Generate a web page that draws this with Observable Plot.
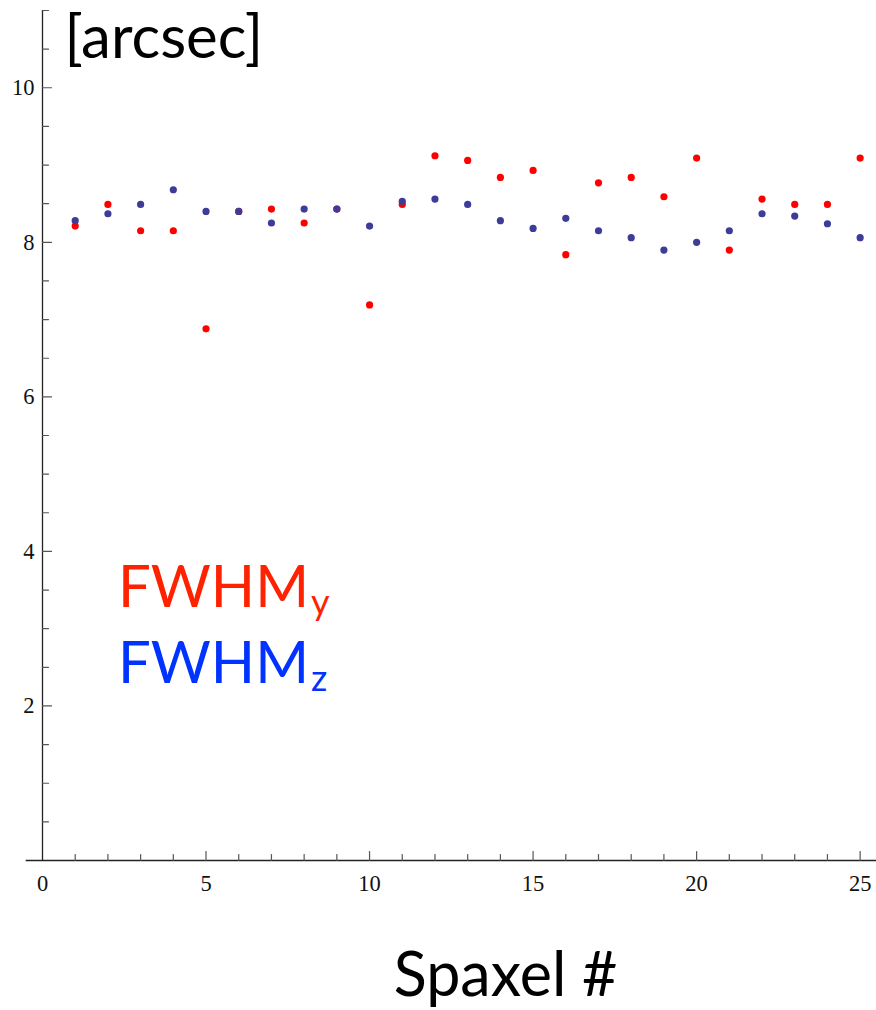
<!DOCTYPE html>
<html>
<head>
<meta charset="utf-8">
<script src="https://cdn.jsdelivr.net/npm/d3@7"></script>
<script src="https://cdn.jsdelivr.net/npm/@observablehq/plot@0.6"></script>
<style>
  body { margin: 0; background: #fff; }
  #wrap { position: relative; width: 876px; height: 1010px; }
  .legend { position: absolute; left: 118px; font-family: Lato, "Open Sans", sans-serif; font-size: 58px; line-height: 1; white-space: nowrap; }
  .legend sub { font-size: 36px; vertical-align: baseline; position: relative; top: 8px; margin-left: 2px; }
</style>
</head>
<body>
<div id="wrap"></div>
<script>
// Data
const spaxel = [1, 2, 3, 4, 5, 6, 7, 8, 9, 10, 11, 12, 13, 14, 15, 16, 17, 18, 19, 20, 21, 22, 23, 24, 25];
const fwhmY  = [8.21, 8.49, 8.15, 8.15, 6.88, 8.40, 8.43, 8.25, 8.43, 7.19, 8.49, 9.12, 9.06, 8.84, 8.93, 7.84, 8.77, 8.84, 8.59, 9.09, 7.90, 8.56, 8.49, 8.49, 9.09];
const fwhmZ  = [8.28, 8.37, 8.49, 8.68, 8.40, 8.40, 8.25, 8.43, 8.43, 8.21, 8.53, 8.56, 8.49, 8.28, 8.18, 8.31, 8.15, 8.06, 7.90, 8.00, 8.15, 8.37, 8.34, 8.24, 8.06];

const xTickLabels = [0, 5, 10, 15, 20, 25];
const xMajorTicks = [5, 10, 15, 20, 25];
const xMinorTicks = [1, 2, 3, 4, 6, 7, 8, 9, 11, 12, 13, 14, 16, 17, 18, 19, 21, 22, 23, 24];
const yTickLabels = [2, 4, 6, 8, 10];
const yMinorTicks = [0.5, 1, 1.5, 2.5, 3, 3.5, 4.5, 5, 5.5, 6.5, 7, 7.5, 8.5, 9, 9.5, 10.5, 11];

const yLabel = "[arcsec]";
const xLabel = "Spaxel #";

const rowsY = spaxel.map((s, i) => ({s, v: fwhmY[i]}));
const rowsZ = spaxel.map((s, i) => ({s, v: fwhmZ[i]}));

const tickShape = {draw(context, l) { context.moveTo(0, 0); context.lineTo(0, -l); }};
const numFont = "'Liberation Serif', 'Times New Roman', serif";
const tickColor = "#555";

const chart = Plot.plot({
  width: 876,
  height: 1010,
  marginTop: 10,
  marginBottom: 150,
  marginLeft: 42,
  marginRight: 0,
  x: {domain: [0, 25.5], axis: null},
  y: {domain: [0, 11], axis: null},
  style: {background: "white"},
  marks: [
    // axis lines
    Plot.ruleY([0], {x1: -0.5, x2: 25.5, stroke: "#222", strokeWidth: 1.3}),
    Plot.ruleX([0], {y1: 0, y2: 11, stroke: "#222", strokeWidth: 1.3}),
    // y ticks (inward)
    Plot.vector(yTickLabels, {x: 0, y: d => d, length: 9, rotate: 90, anchor: "start", shape: tickShape, stroke: tickColor, strokeWidth: 1.2}),
    Plot.vector(yMinorTicks, {x: 0, y: d => d, length: 6, rotate: 90, anchor: "start", shape: tickShape, stroke: tickColor, strokeWidth: 1.2}),
    // x ticks (inward)
    Plot.vector(xMajorTicks, {x: d => d, y: 0, length: 9, rotate: 0, anchor: "start", shape: tickShape, stroke: tickColor, strokeWidth: 1.2}),
    Plot.vector(xMinorTicks, {x: d => d, y: 0, length: 6, rotate: 0, anchor: "start", shape: tickShape, stroke: tickColor, strokeWidth: 1.2}),
    // tick labels
    Plot.text(yTickLabels, {x: 0, y: d => d, text: d => String(d), dx: -8, textAnchor: "end", fontSize: 22.5, fontFamily: numFont, fill: "#111"}),
    Plot.text(xTickLabels, {x: d => d, y: 0, text: d => String(d), dy: 23, fontSize: 22.5, fontFamily: numFont, fill: "#111"}),
    // data
    Plot.dot(rowsY, {x: "s", y: "v", r: 3.6, fill: "#ff0000", stroke: "none"}),
    Plot.dot(rowsZ, {x: "s", y: "v", r: 3.6, fill: "#3c3c99", stroke: "none"}),
    // axis titles
    Plot.text([yLabel], {frameAnchor: "top-left", dx: 22, dy: 47, lineAnchor: "bottom", textAnchor: "start", fontSize: 60, fontFamily: "Lato, 'Open Sans', sans-serif", fill: "#000"}),
    Plot.text([xLabel], {frameAnchor: "bottom", dx: 46, dy: 135, lineAnchor: "bottom", textAnchor: "middle", fontSize: 61, fontFamily: "Lato, 'Open Sans', sans-serif", fill: "#000"})
  ]
});

const wrap = document.getElementById("wrap");
wrap.appendChild(chart);

const legY = document.createElement("div");
legY.className = "legend";
legY.style.top = "556px";
legY.style.color = "#ff2200";
legY.innerHTML = "FWHM<sub>y</sub>";
wrap.appendChild(legY);

const legZ = document.createElement("div");
legZ.className = "legend";
legZ.style.top = "632px";
legZ.style.color = "#0033ff";
legZ.innerHTML = "FWHM<sub>z</sub>";
wrap.appendChild(legZ);
</script>
</body>
</html>
